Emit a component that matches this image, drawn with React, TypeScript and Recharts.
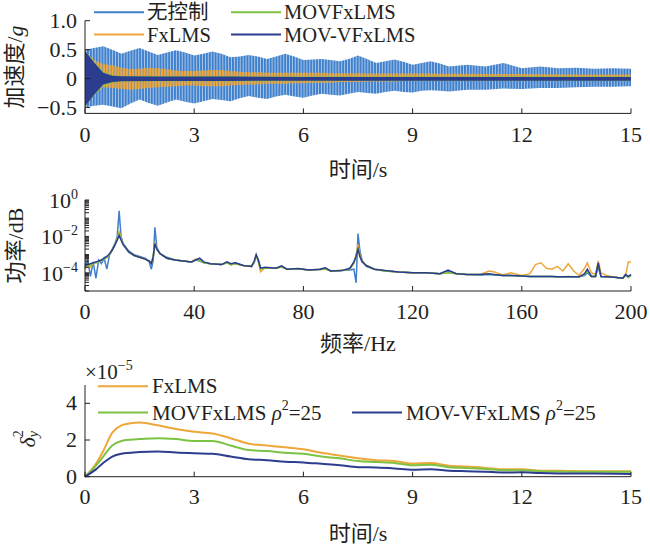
import { Area, ComposedChart, Line, LineChart, XAxis, YAxis } from 'recharts'

// ---- top panel: acceleration envelopes (g) ----
const timeTop = [
    0, 0.25, 0.5, 0.75, 1, 1.25, 1.5, 1.75, 2, 2.25, 2.5, 2.75, 3, 3.25, 3.5, 3.75, 4, 4.25, 4.5, 4.75, 5,
    5.25, 5.5, 5.75, 6, 6.25, 6.5, 6.75, 7, 7.25, 7.5, 7.75, 8, 8.25, 8.5, 8.75, 9, 9.25, 9.5, 9.75, 10,
    10.5, 11, 11.5, 12, 12.5, 13, 13.5, 14, 14.5, 15,
]
const noneUpper = [
    0.5, 0.53, 0.56, 0.5, 0.43, 0.48, 0.53, 0.47, 0.41, 0.45, 0.49, 0.45, 0.4, 0.43, 0.47, 0.43, 0.37, 0.38, 0.41, 0.38, 0.34,
    0.38, 0.43, 0.38, 0.32, 0.33, 0.34, 0.32, 0.3, 0.34, 0.4, 0.34, 0.27, 0.3, 0.33, 0.29, 0.24, 0.27, 0.3, 0.26, 0.21,
    0.24, 0.21, 0.27, 0.18, 0.21, 0.18, 0.19, 0.17, 0.18, 0.17,
]
const noneLower = [
    -0.5, -0.47, -0.45, -0.48, -0.51, -0.43, -0.36, -0.42, -0.47, -0.41, -0.36, -0.4, -0.43, -0.39, -0.35, -0.37, -0.39, -0.34, -0.3, -0.33, -0.35,
    -0.31, -0.28, -0.31, -0.33, -0.29, -0.26, -0.28, -0.29, -0.26, -0.23, -0.25, -0.26, -0.23, -0.21, -0.23, -0.24, -0.21, -0.2, -0.21, -0.22,
    -0.19, -0.19, -0.17, -0.18, -0.16, -0.16, -0.15, -0.14, -0.14, -0.13,
]
const fxUpper = [
    0.48, 0.32, 0.25, 0.23, 0.19, 0.16, 0.17, 0.19, 0.18, 0.16, 0.14, 0.13, 0.13, 0.14, 0.15, 0.15, 0.13, 0.12, 0.11, 0.11, 0.1,
    0.1, 0.1, 0.1, 0.1, 0.1, 0.1, 0.095, 0.095, 0.095, 0.095, 0.09, 0.09, 0.09, 0.09, 0.09, 0.09, 0.09, 0.09, 0.085, 0.085,
    0.085, 0.08, 0.08, 0.08, 0.075, 0.075, 0.07, 0.07, 0.07, 0.07,
]
const fxLower = [
    -0.48, -0.28, -0.15, -0.16, -0.18, -0.19, -0.18, -0.16, -0.15, -0.14, -0.13, -0.12, -0.12, -0.13, -0.13, -0.13, -0.12, -0.11, -0.1, -0.1, -0.09,
    -0.09, -0.09, -0.08, -0.08, -0.07, -0.07, -0.07, -0.06, -0.06, -0.06, -0.05, -0.05, -0.05, -0.05, -0.04, -0.04, -0.04, -0.04, -0.03, -0.03,
    -0.03, -0.03, -0.02, -0.02, -0.02, -0.02, -0.02, -0.02, -0.02, -0.02,
]
const timeMov = [0, 0.25, 0.5, 0.75, 1, 2, 4, 6, 8, 10, 12, 15]
const movUpper = [0.48, 0.29, 0.12, 0.06, 0.045, 0.04, 0.04, 0.035, 0.035, 0.035, 0.035, 0.035]
const movLower = [-0.48, -0.29, -0.12, -0.07, -0.05, -0.045, -0.045, -0.04, -0.04, -0.04, -0.04, -0.04]
const movvUpper = [0.48, 0.28, 0.1, 0.05, 0.04, 0.035, 0.035, 0.03, 0.03, 0.03, 0.03, 0.03]
const movvLower = [-0.48, -0.28, -0.1, -0.06, -0.045, -0.04, -0.04, -0.035, -0.035, -0.035, -0.035, -0.035]

// ---- middle panel: power spectrum, values stored as log10 ----
const freq = [
    0, 1, 2, 3, 4, 5, 6, 7, 8, 9,
    10, 11, 11.8, 12.5, 13.2, 14, 16, 18, 20, 22,
    23.5, 24.3, 25, 25.6, 26.3, 27.5, 30, 33, 36, 39,
    40.5, 42, 43.5, 46, 50, 52, 53.5, 55, 58, 61,
    62, 62.7, 63.5, 64.3, 66, 70, 72, 74, 78, 82,
    86, 88, 90, 94, 97, 98.5, 99.3, 100, 100.7, 101.5,
    103, 106, 110, 115, 120, 125, 130, 133, 136, 140,
    145, 148, 150, 153, 156, 160, 163, 165, 167, 169,
    171, 173, 175, 177, 179, 181, 183, 184, 185.5, 187,
    188, 189, 191, 194, 197, 198, 199, 200,
]
const psdNone = [
    -3.7, -3.3, -4.2, -3.4, -4.3, -3.3, -3.5, -3.2, -3.8, -3.0,
    -2.7, -2.4, -2.0, -0.6, -2.0, -2.4, -2.8, -3.0, -3.1, -3.2,
    -3.4, -3.8, -3.3, -1.5, -2.6, -2.95, -3.15, -3.3, -3.35, -3.4,
    -3.3, -3.35, -3.45, -3.5, -3.55, -3.45, -3.55, -3.45, -3.6, -3.65,
    -3.4, -3.05, -3.3, -3.75, -3.72, -3.75, -3.65, -3.8, -3.78, -3.85,
    -3.82, -3.75, -3.9, -3.88, -3.85, -3.8, -4.55, -1.85, -2.8, -3.3,
    -3.65, -3.8, -3.9, -3.95, -4.0, -4.0, -4.05, -3.9, -4.05, -4.1,
    -4.12, -4.1, -4.12, -4.15, -4.15, -4.18, -4.2, -4.2, -4.2, -4.2,
    -4.2, -4.22, -4.22, -4.22, -4.22, -4.22, -4.15, -4.0, -4.2, -4.2,
    -3.7, -4.2, -4.22, -4.25, -4.3, -4.1, -4.25, -4.1,
]
const psdFx = [
    -3.8, -3.6, -3.7, -3.5, -3.45, -3.4, -3.3, -3.25, -3.15, -3.0,
    -2.75, -2.45, -2.15, -1.7, -2.1, -2.45, -2.85, -3.05, -3.15, -3.25,
    -3.35, -3.5, -3.1, -2.3, -2.7, -2.95, -3.2, -3.3, -3.35, -3.4,
    -3.25, -3.3, -3.45, -3.5, -3.55, -3.45, -3.55, -3.5, -3.6, -3.65,
    -3.4, -3.05, -3.4, -3.95, -3.72, -3.75, -3.68, -3.8, -3.78, -3.85,
    -3.82, -3.8, -3.9, -3.88, -3.8, -3.5, -3.0, -2.45, -3.0, -3.35,
    -3.6, -3.8, -3.9, -3.95, -4.0, -4.0, -4.05, -4.0, -4.05, -4.1,
    -4.08, -3.9, -3.95, -4.12, -4.0, -4.15, -4.05, -3.55, -3.45, -3.75,
    -3.8, -3.65, -3.9, -3.5, -3.9, -4.15, -3.75, -3.45, -4.0, -4.1,
    -3.35, -4.0, -4.15, -4.25, -4.3, -4.2, -3.4, -3.4,
]
const psdMov = [
    -3.75, -3.6, -3.6, -3.5, -3.45, -3.4, -3.3, -3.25, -3.15, -3.0,
    -2.75, -2.45, -2.2, -1.85, -2.15, -2.45, -2.85, -3.05, -3.15, -3.25,
    -3.35, -3.5, -3.1, -2.4, -2.7, -2.95, -3.2, -3.3, -3.35, -3.4,
    -3.3, -3.3, -3.45, -3.5, -3.55, -3.45, -3.55, -3.5, -3.6, -3.65,
    -3.4, -3.05, -3.4, -3.8, -3.72, -3.75, -3.68, -3.8, -3.78, -3.85,
    -3.82, -3.8, -3.9, -3.88, -3.8, -3.45, -3.1, -2.6, -3.1, -3.4,
    -3.6, -3.8, -3.9, -3.95, -4.0, -4.0, -4.05, -4.0, -4.05, -4.1,
    -4.1, -4.05, -4.1, -4.15, -4.15, -4.18, -4.2, -4.2, -4.2, -4.2,
    -4.2, -4.22, -4.22, -4.2, -4.22, -4.22, -4.1, -3.9, -4.2, -4.2,
    -3.5, -4.2, -4.22, -4.25, -4.3, -4.1, -4.25, -4.15,
]
const psdMovv = [
    -3.6, -3.55, -3.5, -3.45, -3.4, -3.35, -3.3, -3.2, -3.1, -2.95,
    -2.75, -2.45, -2.2, -1.95, -2.2, -2.45, -2.85, -3.05, -3.15, -3.25,
    -3.35, -3.5, -3.1, -2.4, -2.7, -2.95, -3.2, -3.3, -3.35, -3.4,
    -3.3, -3.2, -3.4, -3.5, -3.55, -3.4, -3.5, -3.45, -3.6, -3.65,
    -3.35, -3.0, -3.3, -3.75, -3.7, -3.75, -3.62, -3.8, -3.76, -3.85,
    -3.8, -3.72, -3.9, -3.88, -3.75, -3.4, -3.1, -2.7, -3.1, -3.4,
    -3.6, -3.8, -3.88, -3.95, -4.0, -4.0, -4.05, -3.85, -4.05, -4.1,
    -4.1, -4.05, -4.1, -4.15, -4.15, -4.18, -4.2, -4.2, -4.2, -4.2,
    -4.2, -4.22, -4.22, -4.22, -4.22, -4.22, -4.05, -3.8, -4.2, -4.2,
    -3.45, -4.2, -4.22, -4.25, -4.3, -4.1, -4.2, -4.1,
]

// ---- bottom panel: error variance (x1e-5) ----
const timeVar = [0, 0.3, 0.5, 0.75, 1, 1.25, 1.5, 2, 2.5, 3, 3.5, 4, 4.5, 5, 5.5, 6, 6.5, 7, 7.5, 8, 8.5, 9, 9.5, 10, 10.5, 11, 11.5, 12, 12.5, 13, 14, 15]
const varFx = [0, 0.7, 1.4, 2.4, 2.8, 2.92, 2.95, 2.8, 2.6, 2.45, 2.35, 2.1, 1.8, 1.7, 1.6, 1.5, 1.3, 1.15, 1.0, 0.9, 0.85, 0.72, 0.75, 0.6, 0.55, 0.48, 0.4, 0.4, 0.33, 0.32, 0.3, 0.3]
const varMov = [0, 0.6, 1.1, 1.7, 1.95, 2.02, 2.05, 2.1, 2.05, 1.95, 1.95, 1.7, 1.45, 1.4, 1.3, 1.25, 1.1, 1.0, 0.85, 0.8, 0.75, 0.62, 0.65, 0.52, 0.47, 0.42, 0.35, 0.35, 0.3, 0.28, 0.27, 0.27]
const varMovv = [0, 0.4, 0.75, 1.1, 1.25, 1.3, 1.35, 1.38, 1.32, 1.28, 1.25, 1.1, 0.95, 0.9, 0.82, 0.78, 0.7, 0.62, 0.52, 0.5, 0.45, 0.38, 0.4, 0.33, 0.3, 0.27, 0.23, 0.24, 0.2, 0.18, 0.17, 0.15]

const timeTicks = [0, 3, 6, 9, 12, 15]
const freqTicks = [0, 40, 80, 120, 160, 200]
const accelTicks = [-0.5, 0, 0.5, 1.0]
const varTicks = [0, 2, 4]
const psdLabelExps = [0, -2, -4]

const SERIF = "'Liberation Serif', 'Times New Roman', 'Noto Sans CJK SC', serif"
const INK = '#231f20'
const C_NONE = '#3f7fcb'
const C_FX = '#eea73a'
const C_MOV = '#7cc243'
const C_MOVV = '#2c3d8f'

const topData = timeTop.map((t, i) => ({ t, none: [noneLower[i], noneUpper[i]], fx: [fxLower[i], fxUpper[i]] }))
const movData = timeMov.map((t, i) => ({ t, mov: [movLower[i], movUpper[i]], movv: [movvLower[i], movvUpper[i]] }))
const psdData = freq.map((f, i) => ({
    f,
    none: Math.pow(10, psdNone[i]),
    fx: Math.pow(10, psdFx[i]),
    mov: Math.pow(10, psdMov[i]),
    movv: Math.pow(10, psdMovv[i]),
}))
const varData = timeVar.map((t, i) => ({ t, fx: varFx[i], mov: varMov[i], movv: varMovv[i] }))

// log axis minor ticks
const psdTicks: number[] = []
for (let e = -5; e < 0; e++) for (let m = 1; m < 10; m++) psdTicks.push(m * Math.pow(10, e))
psdTicks.push(1)

const txt = { fontFamily: SERIF, fontSize: 22, fill: INK }
const axisLine = { stroke: INK, strokeWidth: 1 }

const xTick = (p: any) => (
    <text x={p.x} y={p.y} textAnchor="middle" {...txt}>
        {p.payload.value}
    </text>
)
const numTick = (p: any) => {
    const v = p.payload.value
    const s = v === 0 ? '0' : (v < 0 ? '−' : '') + (Number.isInteger(v) && Math.abs(v) === 1 ? '1.0' : String(Math.abs(v)))
    return (
        <text x={p.x} y={p.y + 7} textAnchor="end" {...txt}>
            {s}
        </text>
    )
}
const intTick = (p: any) => (
    <text x={p.x} y={p.y + 7} textAnchor="end" {...txt}>
        {p.payload.value}
    </text>
)
const logTick = (p: any) => {
    const lg = Math.log10(p.payload.value)
    const e = Math.round(lg)
    if (Math.abs(lg - e) > 1e-6 || !psdLabelExps.includes(e)) return <g />
    return (
        <text x={p.x} y={p.y + 8} textAnchor="end" {...txt}>
            10
            <tspan dy={-9} fontSize={14}>
                {e === 0 ? '0' : '−' + -e}
            </tspan>
        </text>
    )
}

const xTitle = (content: React.ReactNode, dy: number) => (p: any) => {
    const vb = p.viewBox
    return (
        <text x={vb.x + vb.width / 2} y={vb.y + dy} textAnchor="middle" dominantBaseline="central" {...txt}>
            {content}
        </text>
    )
}
const yTitle = (content: React.ReactNode, cx: number, shift: number) => (p: any) => {
    const vb = p.viewBox
    const cy = vb.y + vb.height / 2 + shift
    return (
        <text transform={`translate(${cx},${cy}) rotate(-90)`} textAnchor="middle" dominantBaseline="central" {...txt}>
            {content}
        </text>
    )
}

const legendTop = [
    { name: '无控制', color: C_NONE, x: 94, y: 12.3 },
    { name: 'MOVFxLMS', color: C_MOV, x: 231, y: 12.3 },
    { name: 'FxLMS', color: C_FX, x: 94, y: 34.5 },
    { name: 'MOV-VFxLMS', color: C_MOVV, x: 231, y: 34.5 },
]
const legendBottom = [
    { name: 'FxLMS', rho: false, color: C_FX, x: 98, y: 386.2 },
    { name: 'MOVFxLMS ', rho: true, color: C_MOV, x: 98, y: 412.5 },
    { name: 'MOV-VFxLMS ', rho: true, color: C_MOVV, x: 352, y: 412.5 },
]

function Overlay() {
    return (
        <svg width={650} height={548} style={{ position: 'absolute', left: 0, top: 0, pointerEvents: 'none' }}>
            {legendTop.map((l) => (
                <g key={l.name}>
                    <line x1={l.x} x2={l.x + 50} y1={l.y} y2={l.y} stroke={l.color} strokeWidth={2} />
                    <text x={l.x + 53} y={l.y} dominantBaseline="central" {...txt} fontSize={20.5}>
                        {l.name}
                    </text>
                </g>
            ))}
            {legendBottom.map((l) => (
                <g key={l.name}>
                    <line x1={l.x} x2={l.x + 50} y1={l.y} y2={l.y} stroke={l.color} strokeWidth={2} />
                    <text x={l.x + 54} y={l.y} dominantBaseline="central" {...txt} fontSize={21}>
                        {l.name}
                        {l.rho && (
                            <>
                                <tspan fontStyle="italic">ρ</tspan>
                                <tspan dy={-8} fontSize={14}>2</tspan>
                                <tspan dy={8}>=25</tspan>
                            </>
                        )}
                    </text>
                </g>
            ))}
            <text x={85} y={371.7} dominantBaseline="central" {...txt} fontSize={21}>
                ×10
                <tspan dy={-7} fontSize={14}>−5</tspan>
            </text>
        </svg>
    )
}

function AccelChart() {
    return (
        <ComposedChart width={650} height={188} data={topData} margin={{ top: 20.7, right: 19, bottom: 8, left: 0 }}>
            <defs>
                <pattern id="stripeNone" width={2.9} height={4} patternUnits="userSpaceOnUse">
                    <rect width={2.9} height={4} fill="#a8c7ea" />
                    <rect width={1.9} height={4} fill={C_NONE} />
                </pattern>
                <pattern id="stripeFx" x={1.5} width={2.9} height={4} patternUnits="userSpaceOnUse">
                    <rect width={2.9} height={4} fill={C_FX} fillOpacity={0.45} />
                    <rect width={1.9} height={4} fill={C_FX} />
                </pattern>
            </defs>
            <XAxis
                dataKey="t"
                type="number"
                domain={[0, 15]}
                ticks={timeTicks}
                height={66.6}
                axisLine={axisLine}
                tickLine={axisLine}
                tickSize={-5}
                tickMargin={34}
                tick={xTick}
                label={xTitle('时间/s', 55.7)}
            />
            <YAxis
                type="number"
                domain={[-0.6, 1.0]}
                ticks={accelTicks}
                width={85}
                axisLine={axisLine}
                tickLine={axisLine}
                tickSize={-5}
                tickMargin={13}
                tick={numTick}
                label={yTitle(
                    <>
                        加速度/<tspan fontStyle="italic">g</tspan>
                    </>,
                    14.5,
                    0,
                )}
            />
            <Area dataKey="none" type="linear" stroke="none" fill="url(#stripeNone)" fillOpacity={1} isAnimationActive={false} />
            <Area dataKey="fx" type="linear" stroke="none" fill="url(#stripeFx)" fillOpacity={1} isAnimationActive={false} />
            <Area data={movData} dataKey="mov" type="linear" stroke="none" fill={C_MOV} fillOpacity={1} isAnimationActive={false} />
            <Area data={movData} dataKey="movv" type="linear" stroke="none" fill={C_MOVV} fillOpacity={1} isAnimationActive={false} />
        </ComposedChart>
    )
}

function PsdChart() {
    const series = [
        { key: 'none', color: C_NONE },
        { key: 'fx', color: C_FX },
        { key: 'mov', color: C_MOV },
        { key: 'movv', color: C_MOVV },
    ]
    return (
        <LineChart width={650} height={180} data={psdData} margin={{ top: 20, right: 19, bottom: 0, left: 0 }}>
            <XAxis
                dataKey="f"
                type="number"
                domain={[0, 200]}
                ticks={freqTicks}
                height={69}
                axisLine={axisLine}
                tickLine={axisLine}
                tickSize={-5}
                tickMargin={33}
                tick={xTick}
                label={xTitle('频率/Hz', 52.3)}
            />
            <YAxis
                type="number"
                scale="log"
                domain={[1e-5, 1]}
                allowDataOverflow
                ticks={psdTicks}
                interval={0}
                width={85}
                axisLine={axisLine}
                tickLine={axisLine}
                tickSize={-4}
                tickMargin={11}
                tick={logTick}
                label={yTitle('功率/dB', 15.5, 0)}
            />
            {series.map((s) => (
                <Line
                    key={s.key}
                    dataKey={s.key}
                    type="linear"
                    stroke={s.color}
                    strokeWidth={1.5}
                    dot={false}
                    isAnimationActive={false}
                />
            ))}
        </LineChart>
    )
}

function VarChart() {
    const series = [
        { key: 'fx', color: C_FX },
        { key: 'mov', color: C_MOV },
        { key: 'movv', color: C_MOVV },
    ]
    return (
        <LineChart width={650} height={188} data={varData} margin={{ top: 25, right: 19, bottom: 0, left: 0 }}>
            <XAxis
                dataKey="t"
                type="number"
                domain={[0, 15]}
                ticks={timeTicks}
                height={71.3}
                axisLine={axisLine}
                tickLine={axisLine}
                tickSize={-5}
                tickMargin={32}
                tick={xTick}
                label={xTitle('时间/s', 56.3)}
            />
            <YAxis
                type="number"
                domain={[0, 5]}
                ticks={varTicks}
                width={85}
                axisLine={axisLine}
                tickLine={axisLine}
                tickSize={-5}
                tickMargin={13}
                tick={intTick}
                label={yTitle(
                    <>
                        <tspan fontStyle="italic">δ</tspan>
                        <tspan dy={-9} fontSize={14}>2</tspan>
                        <tspan dx={-7} dy={15} fontSize={14} fontStyle="italic">y</tspan>
                    </>,
                    27,
                    8,
                )}
            />
            {series.map((s) => (
                <Line
                    key={s.key}
                    dataKey={s.key}
                    type="monotone"
                    stroke={s.color}
                    strokeWidth={2}
                    dot={false}
                    isAnimationActive={false}
                />
            ))}
        </LineChart>
    )
}

export default function App() {
    return (
        <div style={{ position: 'absolute', left: 0, top: 0, width: 650, height: 548, background: '#fff', fontFamily: SERIF }}>
            <div style={{ position: 'absolute', left: 0, top: 0 }}>
                <AccelChart />
            </div>
            <div style={{ position: 'absolute', left: 0, top: 180 }}>
                <PsdChart />
            </div>
            <div style={{ position: 'absolute', left: 0, top: 360 }}>
                <VarChart />
            </div>
            <Overlay />
        </div>
    )
}
